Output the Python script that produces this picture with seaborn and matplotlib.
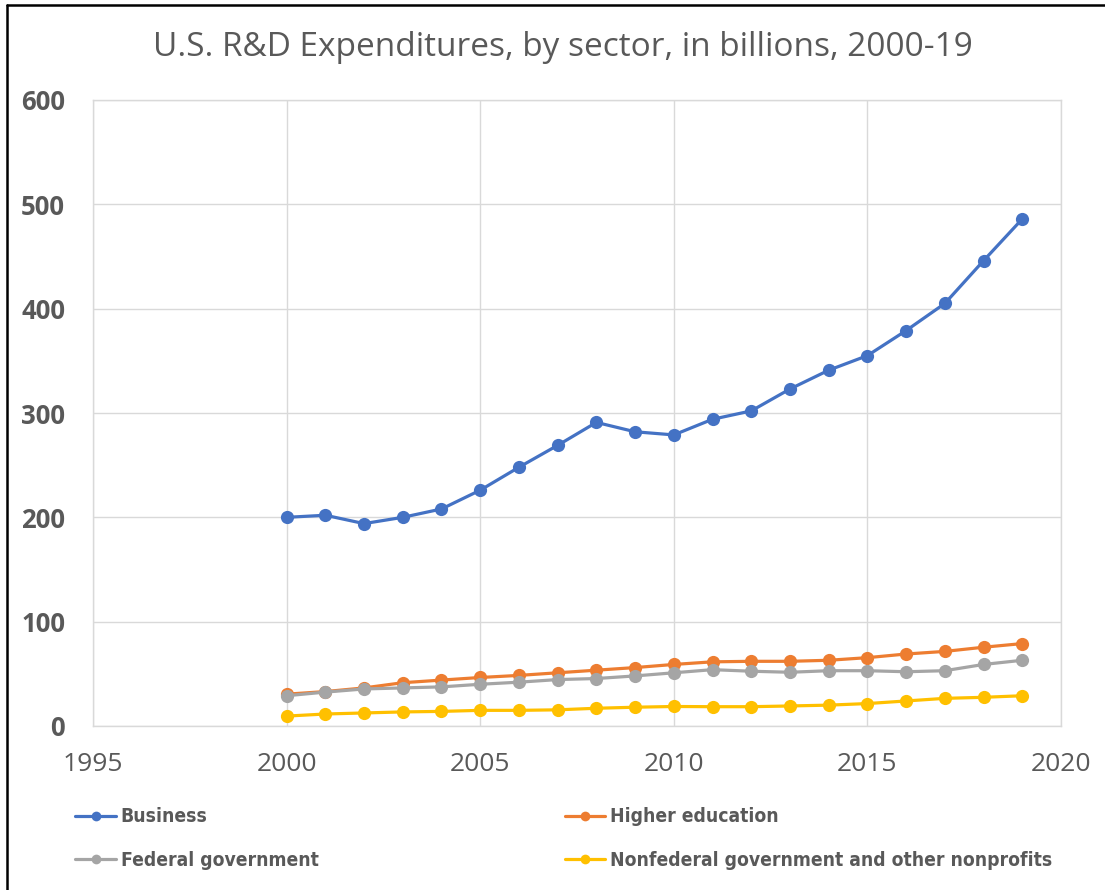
import matplotlib
matplotlib.use("Agg")
import matplotlib.pyplot as plt
from matplotlib.lines import Line2D
from matplotlib import font_manager
import pandas as pd
import seaborn as sns

# U.S. R&D expenditures by performing sector, billions of dollars
years = list(range(2000, 2020))
business = [200, 202, 194, 200, 208, 226, 248, 269, 291, 282,
            279, 294, 302, 323, 341, 355, 379, 405, 446, 486]
higher_education = [30.5, 33, 36.5, 41.5, 44, 46.5, 48.5, 51, 53.5, 56,
                    59, 61.5, 62, 62, 63, 65.5, 69, 71.5, 75.5, 79]
federal_government = [29, 32.5, 35.5, 36.5, 37.5, 40, 42, 44.5, 45.5, 48,
                      51, 54, 52.5, 51.5, 53, 53, 52, 53, 59, 63]
nonfederal = [9.5, 11.5, 12.5, 13.5, 14, 15, 15, 15.5, 17, 18,
              18.7, 18.5, 18.5, 19.2, 20, 21.5, 24, 26.5, 27.5, 29]

sectors = ["Business", "Higher education", "Federal government",
           "Nonfederal government and other nonprofits"]
series = [business, higher_education, federal_government, nonfederal]
colors = ["#4472C4", "#ED7D31", "#A5A5A5", "#FFC000"]

x_ticks = [1995, 2000, 2005, 2010, 2015, 2020]
y_ticks = [0, 100, 200, 300, 400, 500, 600]

df = pd.DataFrame({
    "Year": years * len(sectors),
    "Spending": [v for s in series for v in s],
    "Sector": [name for name in sectors for _ in years],
})

sns.set_style("white")
plt.rcParams["font.family"] = ["Open Sans", "DejaVu Sans"]

text_color = "#595959"
grid_color = "#D9D9D9"

# A condensed bold face for the legend, if one is installed
installed = font_manager.fontManager.ttflist
condensed = [f for f in installed
             if f.name == "DejaVu Sans" and f.stretch == "condensed" and f.weight == 700]
if condensed:
    legend_font = font_manager.FontProperties(fname=condensed[0].fname, size=13.9)
    col_space = 12.75
else:
    legend_font = font_manager.FontProperties(family="Liberation Sans",
                                              weight="bold", size=12.5)
    col_space = 13.0

fig = plt.figure(figsize=(11.05, 8.9), dpi=100)
ax = fig.add_axes([93 / 1105, 1 - 726 / 890, (1061 - 93) / 1105, (726 - 100) / 890])

sns.lineplot(data=df, x="Year", y="Spending", hue="Sector",
             hue_order=sectors, palette=dict(zip(sectors, colors)),
             marker="o", markersize=9.5, markeredgewidth=0,
             linewidth=2.3, ax=ax, legend=False)

ax.set_xlim(1995, 2020)
ax.set_ylim(0, 600)
ax.set_xticks(x_ticks)
ax.set_yticks(y_ticks)
ax.set_xticklabels([str(t) for t in x_ticks], fontsize=19, color=text_color)
ax.set_yticklabels([str(t) for t in y_ticks], fontsize=18.5,
                   fontweight="bold", color=text_color)
ax.tick_params(axis="x", length=0, pad=19)
ax.tick_params(axis="y", length=0, pad=20)
ax.set_xlabel("")
ax.set_ylabel("")
ax.grid(True, color=grid_color, linewidth=1)
ax.set_axisbelow(True)
for spine in ax.spines.values():
    spine.set_visible(True)
    spine.set_color(grid_color)
    spine.set_linewidth(1)

fig.text(0.509, 1 - 47 / 890, "U.S. R&D Expenditures, by sector, in billions, 2000-19",
         ha="center", va="center", fontsize=24, color=text_color)

# Legend: two columns, two rows
handles = [Line2D([0], [0], color=c, linewidth=2.3, marker="o",
                  markersize=7, markeredgewidth=0) for c in colors]
order = [0, 2, 1, 3]
fig.legend([handles[i] for i in order], [sectors[i] for i in order],
           ncol=2, loc="upper left", bbox_to_anchor=(58 / 1105, 1 - 790 / 890),
           frameon=False, handlelength=2.1, handletextpad=0.25,
           columnspacing=col_space, labelspacing=1.25,
           prop=legend_font, labelcolor=text_color)

# Frame lines along the top and left edges
fig.add_artist(Line2D([7 / 1105, 7 / 1105], [0, 1 - 5 / 890],
                      transform=fig.transFigure, color="black", linewidth=1.8))
fig.add_artist(Line2D([7 / 1105, 1], [1 - 5 / 890, 1 - 5 / 890],
                      transform=fig.transFigure, color="black", linewidth=1.8))

fig.savefig("out.png", dpi=100, facecolor="white")
